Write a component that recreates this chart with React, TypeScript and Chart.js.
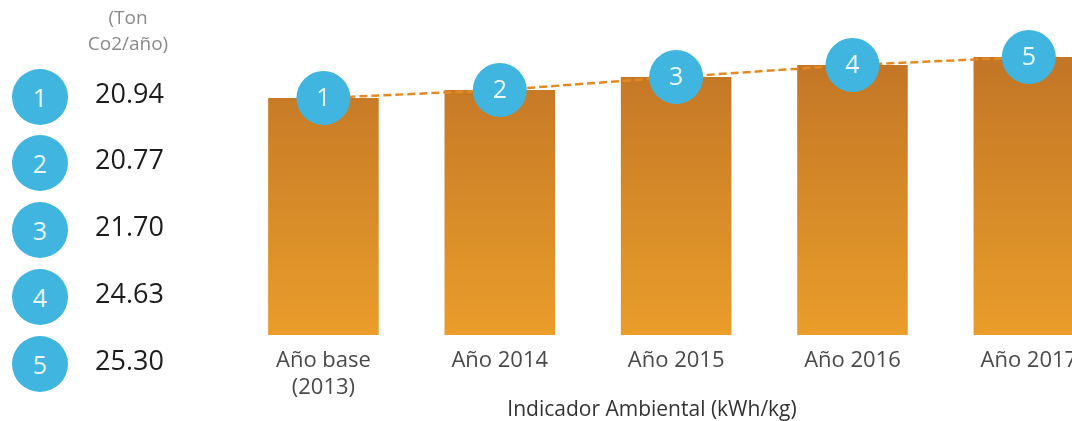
import React, { useEffect, useRef } from "react";
import { Chart, registerables } from "chart.js";

Chart.register(...registerables);

// ---- data ----
const categories: (string | string[])[] = [["Año base", "(2013)"], "Año 2014", "Año 2015", "Año 2016", "Año 2017"];
const indicatorValues = [237, 245, 258, 270, 278]; // Indicador Ambiental (kWh/kg), read as relative heights
const markerNumbers = ["1", "2", "3", "4", "5"];
const emissionValues = ["20.94", "20.77", "21.70", "24.63", "25.30"]; // Ton Co2/año
const unitLines = ["(Ton", "Co2/año)"];
const axisTitle = "Indicador Ambiental (kWh/kg)";

const FONT = "'Open Sans', 'DejaVu Sans', sans-serif";
const BLUE = "#3fb5df";

const markerLabels = {
  id: "markerLabels",
  afterDatasetsDraw(chart: any) {
    const meta = chart.getDatasetMeta(0);
    const c = chart.ctx;
    c.save();
    c.fillStyle = "rgba(255,255,255,0.9)";
    c.font = `400 25px ${FONT}`;
    c.textAlign = "center";
    c.textBaseline = "middle";
    meta.data.forEach((pt: any, i: number) => {
      c.fillText(markerNumbers[i], pt.x, pt.y + 1);
    });
    c.restore();
  },
};

const bottomTitle = {
  id: "bottomTitle",
  afterDraw(chart: any) {
    const c = chart.ctx;
    c.save();
    c.fillStyle = "#333333";
    c.font = `400 21px ${FONT}`;
    c.textAlign = "center";
    c.textBaseline = "middle";
    c.fillText(axisTitle, 652, 410);
    c.restore();
  },
};

export default function App() {
  const ref = useRef<HTMLCanvasElement | null>(null);

  useEffect(() => {
    if (!ref.current) return;
    const chart = new Chart(ref.current, {
      type: "bar",
      data: {
        labels: categories,
        datasets: [
          {
            type: "line",
            data: indicatorValues,
            borderColor: "#e38b22",
            borderWidth: 2.5,
            borderDash: [8, 4],
            pointRadius: 27,
            pointHoverRadius: 27,
            pointBackgroundColor: BLUE,
            pointBorderColor: BLUE,
            pointBorderWidth: 0,
            clip: false,
            order: 0,
          } as any,
          {
            type: "bar",
            data: indicatorValues,
            backgroundColor: (ctx: any) => {
              const ch = ctx.chart;
              const area = ch.chartArea;
              if (!area) return "#d98c28";
              const g = ch.ctx.createLinearGradient(0, 60, 0, area.bottom);
              g.addColorStop(0, "#c27626");
              g.addColorStop(1, "#ea9d2a");
              return g;
            },
            borderWidth: 0,
            categoryPercentage: 1,
            barPercentage: 0.627,
            order: 1,
          },
        ],
      },
      options: {
        animation: false,
        responsive: false,
        devicePixelRatio: 1,
        layout: { padding: { left: 235.25, right: 7.25, top: 35, bottom: 0 } },
        plugins: { legend: { display: false }, tooltip: { enabled: false } },
        scales: {
          x: {
            grid: { display: false, drawTicks: false },
            border: { display: false },
            ticks: {
              autoSkip: false,
              maxRotation: 0,
              padding: 13,
              color: "#4a4a4a",
              font: { family: FONT, size: 22 },
            },
            afterFit: (scale: any) => {
              scale.height = 86;
            },
          },
          y: { display: false, min: 0, max: 300 },
        },
      },
      plugins: [markerLabels, bottomTitle],
    });
    return () => chart.destroy();
  }, []);

  const circleCenters = [97, 163, 230, 297, 364];

  return (
    <div style={{ position: "absolute", left: 0, top: 0, width: 1072, height: 421, overflow: "hidden", background: "#fff", fontFamily: FONT }}>
      <canvas ref={ref} width={1144} height={421} style={{ position: "absolute", left: 0, top: 0, width: 1144, height: 421 }} />
      <div style={{ position: "absolute", left: 78, top: 4, width: 100, textAlign: "center", color: "#8a8a8a", fontSize: 19, lineHeight: "26px" }}>
        {unitLines.map((l) => (
          <div key={l}>{l}</div>
        ))}
      </div>
      {emissionValues.map((v, i) => (
        <React.Fragment key={i}>
          <div
            style={{
              position: "absolute",
              left: 12,
              top: circleCenters[i] - 28,
              width: 56,
              height: 56,
              borderRadius: "50%",
              background: BLUE,
              color: "rgba(255,255,255,0.9)",
              fontSize: 25,
              fontWeight: 400,
              lineHeight: "56px",
              textAlign: "center",
            }}
          >
            {markerNumbers[i]}
          </div>
          <div style={{ position: "absolute", left: 95, top: circleCenters[i] - 24, height: 40, lineHeight: "40px", fontSize: 27, fontWeight: 500, color: "#1c1c1c" }}>{v}</div>
        </React.Fragment>
      ))}
    </div>
  );
}
